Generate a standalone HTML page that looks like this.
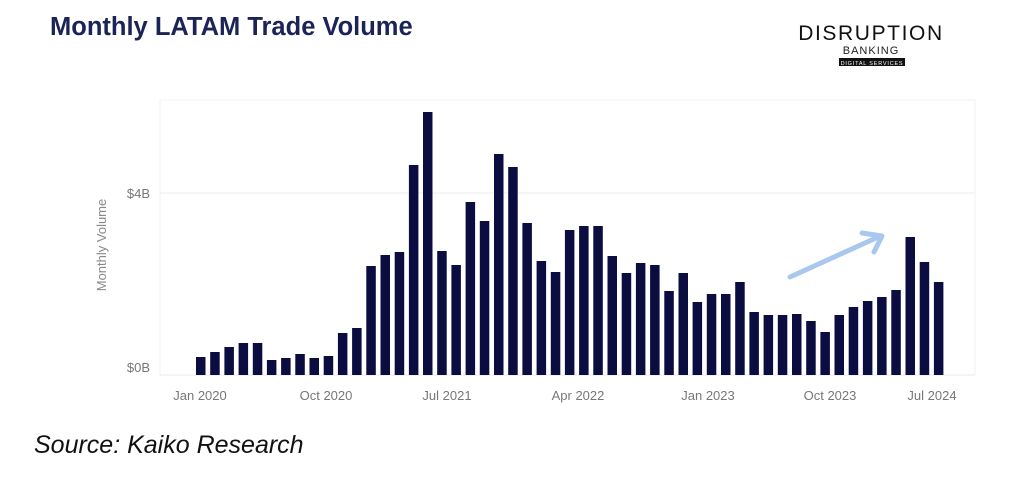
<!DOCTYPE html>
<html><head><style>
body{margin:0;width:1024px;height:478px;background:#fff;overflow:hidden;font-family:"Liberation Sans",sans-serif;}
</style></head><body>
<svg width="1024" height="478" xmlns="http://www.w3.org/2000/svg">
<text x="50" y="35" font-size="25.5" font-weight="bold" fill="#1c2457" font-family="Liberation Sans">Monthly LATAM Trade Volume</text>
<text x="871" y="40" font-size="21" fill="#111" text-anchor="middle" letter-spacing="1.6" font-family="Liberation Sans">DISRUPTION</text>
<text x="871" y="54" font-size="11" fill="#222" text-anchor="middle" letter-spacing="1" font-family="Liberation Sans">BANKING</text>
<rect x="839" y="58" width="66" height="8" fill="#111"/>
<text x="872" y="65" font-size="5.5" fill="#fff" text-anchor="middle" letter-spacing="0.8" font-family="Liberation Sans">DIGITAL SERVICES</text>
<rect x="160" y="100" width="815" height="275" fill="none" stroke="#f2f2f2"/>
<line x1="160" y1="193" x2="975" y2="193" stroke="#eeeeee"/>
<line x1="160" y1="375" x2="975" y2="375" stroke="#e8e8e8"/>
<text x="150" y="198" font-size="13" fill="#777" text-anchor="end">$4B</text>
<text x="150" y="372" font-size="13" fill="#777" text-anchor="end">$0B</text>
<text transform="translate(106,245) rotate(-90)" font-size="13" fill="#888" text-anchor="middle">Monthly Volume</text>
<g fill="#0b0c3f" id="bars"></g>
<g font-size="13" fill="#777" text-anchor="middle">
<text x="200" y="400">Jan 2020</text><text x="326" y="400">Oct 2020</text><text x="447" y="400">Jul 2021</text><text x="578" y="400">Apr 2022</text><text x="708" y="400">Jan 2023</text><text x="830" y="400">Oct 2023</text><text x="932" y="400">Jul 2024</text>
</g>
<line x1="790" y1="277" x2="876" y2="238" stroke="#a9c8ee" stroke-width="5" stroke-linecap="round"/>
<polyline points="862,233 882,236 874,252" fill="none" stroke="#a9c8ee" stroke-width="5" stroke-linecap="round" stroke-linejoin="round"/>
<text x="34" y="453" font-size="25" font-style="italic" fill="#111">Source: Kaiko Research</text>
</svg>
<script>
var tops=[357,352,347,343,343,360,358,354,358,356,333,328,266,255,252,165,112,251,265,202,221,154,167,223,261,272,230,226,226,256,273,263,265,291,273,302,294,294,282,312,315,315,314,321,332,315,307,301,297,290,237,262,282];
var g=document.getElementById('bars'),s='';
for(var i=0;i<tops.length;i++){var x=196+i*14.19;s+='<rect x="'+x.toFixed(1)+'" y="'+tops[i]+'" width="9.5" height="'+(375-tops[i])+'"/>';}
g.innerHTML=s;
</script>
</body></html>
